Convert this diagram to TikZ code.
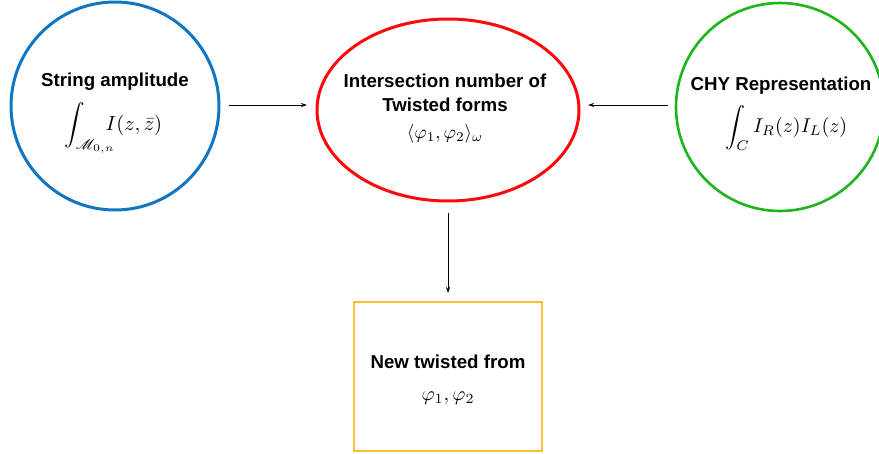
\documentclass[tikz,border=0pt]{standalone}
\usepackage{graphicx}
\usepackage{amsmath}
\usepackage{mathrsfs}
\usepackage{fontspec}
\setmainfont{Liberation Sans}
\usetikzlibrary{arrows.meta}
\definecolor{cblue}{RGB}{16,118,196}
\definecolor{cred}{RGB}{250,10,10}
\definecolor{cgreen}{RGB}{30,180,30}
\definecolor{cyell}{RGB}{252,192,50}
\newcommand{\mymath}[2][1.9]{\scalebox{#1}{\fontsize{10}{12}\selectfont #2}}
\tikzset{
  ttl/.style={font=\fontsize{18.7}{22}\selectfont\bfseries, inner sep=0pt, align=center},
  mth/.style={inner sep=0pt},
  conn/.style={-{Stealth[length=6pt,width=4pt]}, line width=0.8pt},
}
\begin{document}
\begin{tikzpicture}[x=1pt,y=-1pt]
\useasboundingbox (0,0) rectangle (879,453);
\begin{scope}
\clip (0,0) rectangle (879,453);
\draw[cblue, line width=3pt] (115,106) circle (104);
\draw[cred, line width=3pt] (448,110) ellipse (131 and 91);
\draw[cgreen, line width=2.6pt] (780,107) circle (104);
\draw[cyell, line width=1.5pt] (354,302) rectangle (542,451);
\end{scope}
\coordinate (bR) at (229,105);
\coordinate (rL) at (307,105);
\coordinate (gL) at (668,105);
\coordinate (rR) at (588,105);
\coordinate (rB) at (448,213);
\coordinate (yT) at (448,293);
\node[ttl] (t1) at (115,82) {String amplitude};
\node[mth, anchor=west] (m1) at (64,128) {\mymath[2.05]{$\displaystyle\int_{\mathscr{M}_{0,n}}\!\!\!\! I(z,\bar z)$}};
\node[ttl] (t2) at (445,93) {Intersection number of\\[2pt]Twisted forms};
\node[mth] (m2) at (445,134) {\mymath{$\langle\varphi_1,\varphi_2\rangle_\omega$}};
\node[ttl] (t3) at (781,86) {CHY Representation};
\node[mth, anchor=west] (m3) at (725,128) {\mymath[2.0]{$\displaystyle\int_C I_R(z)I_L(z)$}};
\node[ttl] (t4) at (448,362) {New twisted from};
\node[mth] (m4) at (448,398) {\mymath[2.0]{$\varphi_1,\varphi_2$}};
\draw[conn] (bR) -- (rL);
\draw[conn] (gL) -- (rR);
\draw[conn] (rB) -- (yT);
\end{tikzpicture}
\end{document}
